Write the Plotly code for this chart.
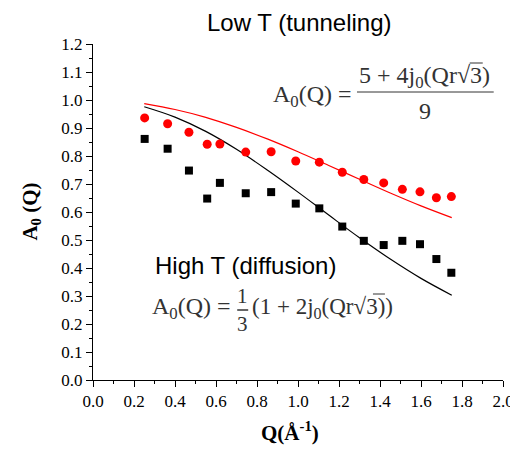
import plotly.graph_objects as go

q_low = [0.252, 0.364, 0.468, 0.557, 0.619, 0.745, 0.869, 0.989, 1.104, 1.216,
         1.321, 1.418, 1.509, 1.595, 1.675, 1.748]
a_low = [0.936, 0.915, 0.885, 0.842, 0.843, 0.814, 0.815, 0.782, 0.778, 0.742,
         0.716, 0.704, 0.681, 0.672, 0.651, 0.655]

q_high = [0.252, 0.364, 0.468, 0.557, 0.619, 0.745, 0.869, 0.989, 1.104, 1.216,
          1.321, 1.418, 1.509, 1.595, 1.675, 1.748]
a_high = [0.861, 0.826, 0.748, 0.648, 0.704, 0.667, 0.671, 0.630, 0.613, 0.548,
          0.497, 0.482, 0.497, 0.485, 0.432, 0.383]

# model curves
q_curve = [0.25, 0.40, 0.55, 0.70, 0.85, 1.00, 1.15, 1.30, 1.45, 1.60, 1.75]
a_curve_low = [0.987, 0.966, 0.938, 0.902, 0.861, 0.815, 0.766, 0.717, 0.668, 0.622, 0.580]
a_curve_high = [0.976, 0.939, 0.888, 0.824, 0.750, 0.671, 0.589, 0.508, 0.432, 0.363, 0.303]

x_ticks = [0.0, 0.2, 0.4, 0.6, 0.8, 1.0, 1.2, 1.4, 1.6, 1.8, 2.0]
y_ticks = [0.0, 0.1, 0.2, 0.3, 0.4, 0.5, 0.6, 0.7, 0.8, 0.9, 1.0, 1.1, 1.2]

fig = go.Figure()
fig.add_trace(go.Scatter(x=q_curve, y=a_curve_low, mode="lines", line=dict(color="red", width=1.2, shape="spline"), showlegend=False))
fig.add_trace(go.Scatter(x=q_curve, y=a_curve_high, mode="lines", line=dict(color="black", width=1.2, shape="spline"), showlegend=False))
fig.add_trace(go.Scatter(x=q_low, y=a_low, mode="markers", marker=dict(symbol="circle", size=9, color="red"), showlegend=False))
fig.add_trace(go.Scatter(x=q_high, y=a_high, mode="markers", marker=dict(symbol="square", size=8, color="black"), showlegend=False))

serif = "Liberation Serif"
tickfont = dict(family=serif, size=17, color="black")

fig.update_xaxes(range=[0, 2], tickvals=x_ticks, ticktext=[f"{v:.1f}" for v in x_ticks],
                 showline=True, linecolor="black", linewidth=1, ticks="outside", ticklen=6,
                 tickcolor="black", showgrid=False, zeroline=False, tickfont=tickfont, automargin=False,
                 ticklabeloverflow="allow",
                 minor=dict(dtick=0.1, ticks="outside", ticklen=3, tickcolor="black", showgrid=False))
fig.update_yaxes(range=[0, 1.2], tickvals=y_ticks, ticktext=[f"{v:.1f}" for v in y_ticks],
                 showline=True, linecolor="black", linewidth=1, ticks="outside", ticklen=6,
                 tickcolor="black", showgrid=False, zeroline=False, tickfont=tickfont, automargin=False,
                 minor=dict(dtick=0.05, ticks="outside", ticklen=3, tickcolor="black", showgrid=False))

# page has an 8px body margin; figure sized to fit the window
OFF = 8
W, H = 510, 439
L, T = 92.5 - OFF, 44 - OFF
R = W - (503.3 - OFF)
B = H - (380 - OFF)
pw, ph = W - L - R, H - T - B

def px(x):
    return (x - OFF - L) / pw

def py(y):
    return (H - B - (y - OFF)) / ph

gray = "#333333"
fs = 24
ann = []
ann.append(dict(x=px(299), y=py(22), text="Low T (tunneling)", font=dict(family="Liberation Sans", size=24, color="black")))
ann.append(dict(x=px(245), y=py(265), text="High T (diffusion)", font=dict(family="Liberation Sans", size=24, color="black")))
# formula 1
ann.append(dict(x=px(354), y=py(96), xanchor="right", text="A<sub>0</sub>(Q) =", font=dict(family=serif, size=fs, color=gray)))
ann.append(dict(x=px(425), y=py(77), text="5 + 4j<sub>0</sub>(Qr√3)", font=dict(family=serif, size=fs, color=gray)))
ann.append(dict(x=px(425), y=py(111), text="9", font=dict(family=serif, size=fs, color=gray)))
# formula 2
ann.append(dict(x=px(233), y=py(308), xanchor="right", text="A<sub>0</sub>(Q) =", font=dict(family=serif, size=fs, color=gray)))
ann.append(dict(x=px(242), y=py(296), text="1", font=dict(family=serif, size=21, color=gray)))
ann.append(dict(x=px(242), y=py(324), text="3", font=dict(family=serif, size=21, color=gray)))
ann.append(dict(x=px(250), y=py(308), xanchor="left", text="(1 + 2j<sub>0</sub>(Qr<b>√</b>3))", font=dict(family=serif, size=23, color=gray)))
# axis titles
ann.append(dict(x=px(30), y=py(212), text="<b>A<sub>0</sub> (Q)</b>", textangle=-90, font=dict(family=serif, size=21, color="black")))
ann.append(dict(x=px(290), y=py(432), text="<b>Q(Å<sup>-1</sup>)</b>", font=dict(family=serif, size=21, color="black")))
for a in ann:
    a.setdefault("xref", "paper")
    a.setdefault("yref", "paper")
    a.setdefault("xanchor", "center")
    a.setdefault("yanchor", "middle")
    a.setdefault("showarrow", False)
fig.update_layout(annotations=ann)

# fraction bars and radical overlines
fig.add_shape(type="line", xref="paper", yref="paper", x0=px(357), x1=px(494), y0=py(92), y1=py(92), line=dict(color=gray, width=1))
fig.add_shape(type="line", xref="paper", yref="paper", x0=px(237), x1=px(248), y0=py(310), y1=py(310), line=dict(color=gray, width=1.5))
fig.add_shape(type="line", xref="paper", yref="paper", x0=px(470), x1=px(483), y0=py(63), y1=py(63), line=dict(color=gray, width=1))
fig.add_shape(type="line", xref="paper", yref="paper", x0=px(373), x1=px(385), y0=py(294), y1=py(294), line=dict(color=gray, width=1))

fig.update_layout(width=W, height=H, margin=dict(l=L, r=R, t=T, b=B, autoexpand=False),
                  plot_bgcolor="white", paper_bgcolor="white")
fig.write_html("out.html")
